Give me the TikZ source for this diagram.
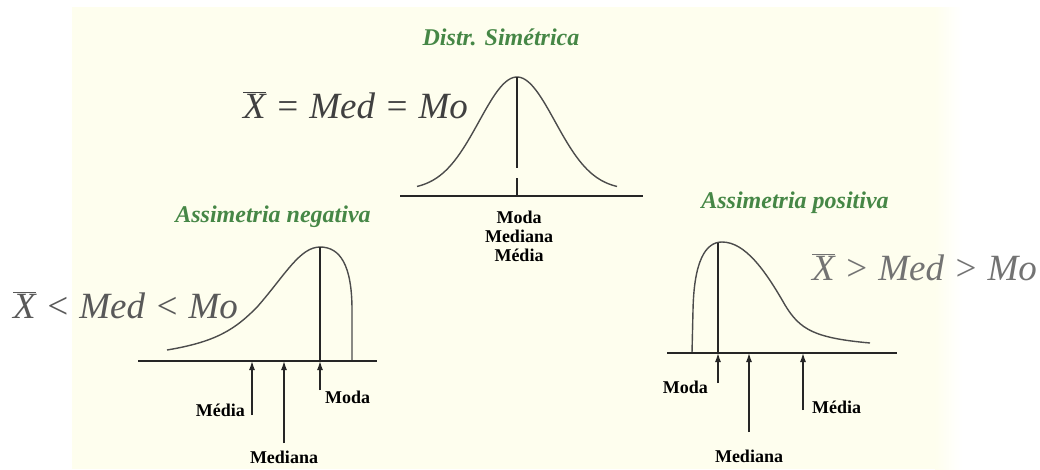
\documentclass[tikz,border=0pt]{standalone}
\usepackage{fontspec}
\setmainfont{Liberation Serif}
\usetikzlibrary{arrows.meta, positioning}
\definecolor{cream}{RGB}{254,254,238}
\definecolor{titlegreen}{RGB}{70,135,70}
\newcommand{\xbarra}{$\overline{\mbox{\itshape X}}$}

\begin{document}
\begin{tikzpicture}[
    x=1pt, y=-1pt,
    title/.style={font=\fontsize{24}{28}\selectfont\bfseries\itshape, text=titlegreen, inner sep=0pt, anchor=base},
    formula/.style={font=\fontsize{37}{40}\selectfont\itshape, inner sep=0pt, anchor=base west},
    lbl/.style={font=\fontsize{18}{19}\selectfont\bfseries, inner sep=0pt},
    curve/.style={line width=1.4pt, black!70},
    axis/.style={line width=2.2pt, black!85},
    marker/.style={line width=1.3pt, black!85},
    arrow/.style={-{Latex[length=9pt, width=6pt]}, line width=1.3pt, black!85}
]
    \useasboundingbox (0,0) rectangle (1040,469);
    \fill[cream] (72,7) rectangle (936,469);
    \shade[left color=cream, right color=white] (935,7) rectangle (962,469);

    % distribuicao simetrica
    \node[title] (tsim) at (501,45) {Distr. Simétrica};
    \node[formula, text=black!75] (fsim) at (243,118) {\xbarra\ = \textit{Med} = \textit{Mo}};
    \coordinate (sa) at (400,196);
    \coordinate (sb) at (643,196);
    \coordinate (speak) at (517,77);
    \coordinate (sbase) at (517,196);
    \draw[curve] plot[domain=417:617, samples=80] (\x, {190-113*exp(-((\x-517)/38)^2/2)});
    \draw[axis] (sa) -- (sb);
    \draw[marker] (speak) -- ++(0,91) ++(0,10) -- (sbase);
    \node[lbl, anchor=base] (smoda) at (519,223) {Moda};
    \node[lbl, anchor=base] (smediana) at ([yshift=-19pt]smoda.base) {Mediana};
    \node[lbl, anchor=base] (smedia) at ([yshift=-19pt]smediana.base) {Média};

    % assimetria negativa
    \node[title] (tneg) at (273,222) {Assimetria negativa};
    \node[formula, text=black!65] (fneg) at (13,318) {\xbarra\ < \textit{Med} < \textit{Mo}};
    \coordinate (na) at (138,361);
    \coordinate (nb) at (377,361);
    \coordinate (npeak) at (320,247);
    \coordinate (nmoda) at (320,361);
    \coordinate (nmediana) at (284,361);
    \coordinate (nmedia) at (252,361);
    \draw[curve] (167,350) .. controls (215,342) and (235,330) .. (258,306)
        .. controls (285,275) and (300,247) .. (npeak)
        .. controls (340,247) and (352,265) .. (352,310) -- (352,361);
    \draw[axis] (na) -- (nb);
    \draw[marker] (npeak) -- (nmoda);
    \coordinate (nmediaend) at (252,415);
    \coordinate (nmedianaend) at (284,443);
    \coordinate (nmodaend) at (320,390);
    \draw[arrow] (nmediaend) -- (nmedia);
    \draw[arrow] (nmedianaend) -- (nmediana);
    \draw[arrow] (nmodaend) -- (nmoda);
    \node[lbl, anchor=base east] (nmedialbl) at (245,416) {Média};
    \node[lbl, anchor=base] (nmedianalbl) at (284,463) {Mediana};
    \node[lbl, anchor=base west] (nmodalbl) at (325,403) {Moda};

    % assimetria positiva
    \node[title] (tpos) at (795,208) {Assimetria positiva};
    \node[formula, text=black!55] (fpos) at (812,280) {\xbarra\ > \textit{Med} > \textit{Mo}};
    \coordinate (pa) at (667,353);
    \coordinate (pb) at (897,353);
    \coordinate (ppeak) at (718,243);
    \coordinate (pmoda) at (718,353);
    \coordinate (pmediana) at (749,353);
    \coordinate (pmedia) at (803,353);
    \draw[curve] (692,353) -- (693,310) .. controls (694,262) and (705,242) .. (722,242)
        .. controls (745,242) and (765,270) .. (785,305)
        .. controls (800,330) and (815,338) .. (870,343);
    \draw[axis] (pa) -- (pb);
    \draw[marker] (ppeak) -- (pmoda);
    \coordinate (pmodaend) at (718,383);
    \coordinate (pmedianaend) at (749,432);
    \coordinate (pmediaend) at (803,410);
    \draw[arrow] (pmodaend) -- (pmoda);
    \draw[arrow] (pmedianaend) -- (pmediana);
    \draw[arrow] (pmediaend) -- (pmedia);
    \node[lbl, anchor=base east] (pmodalbl) at (708,393) {Moda};
    \node[lbl, anchor=base] (pmedianalbl) at (749,462) {Mediana};
    \node[lbl, anchor=base west] (pmedialbl) at (812,413) {Média};
\end{tikzpicture}
\end{document}
